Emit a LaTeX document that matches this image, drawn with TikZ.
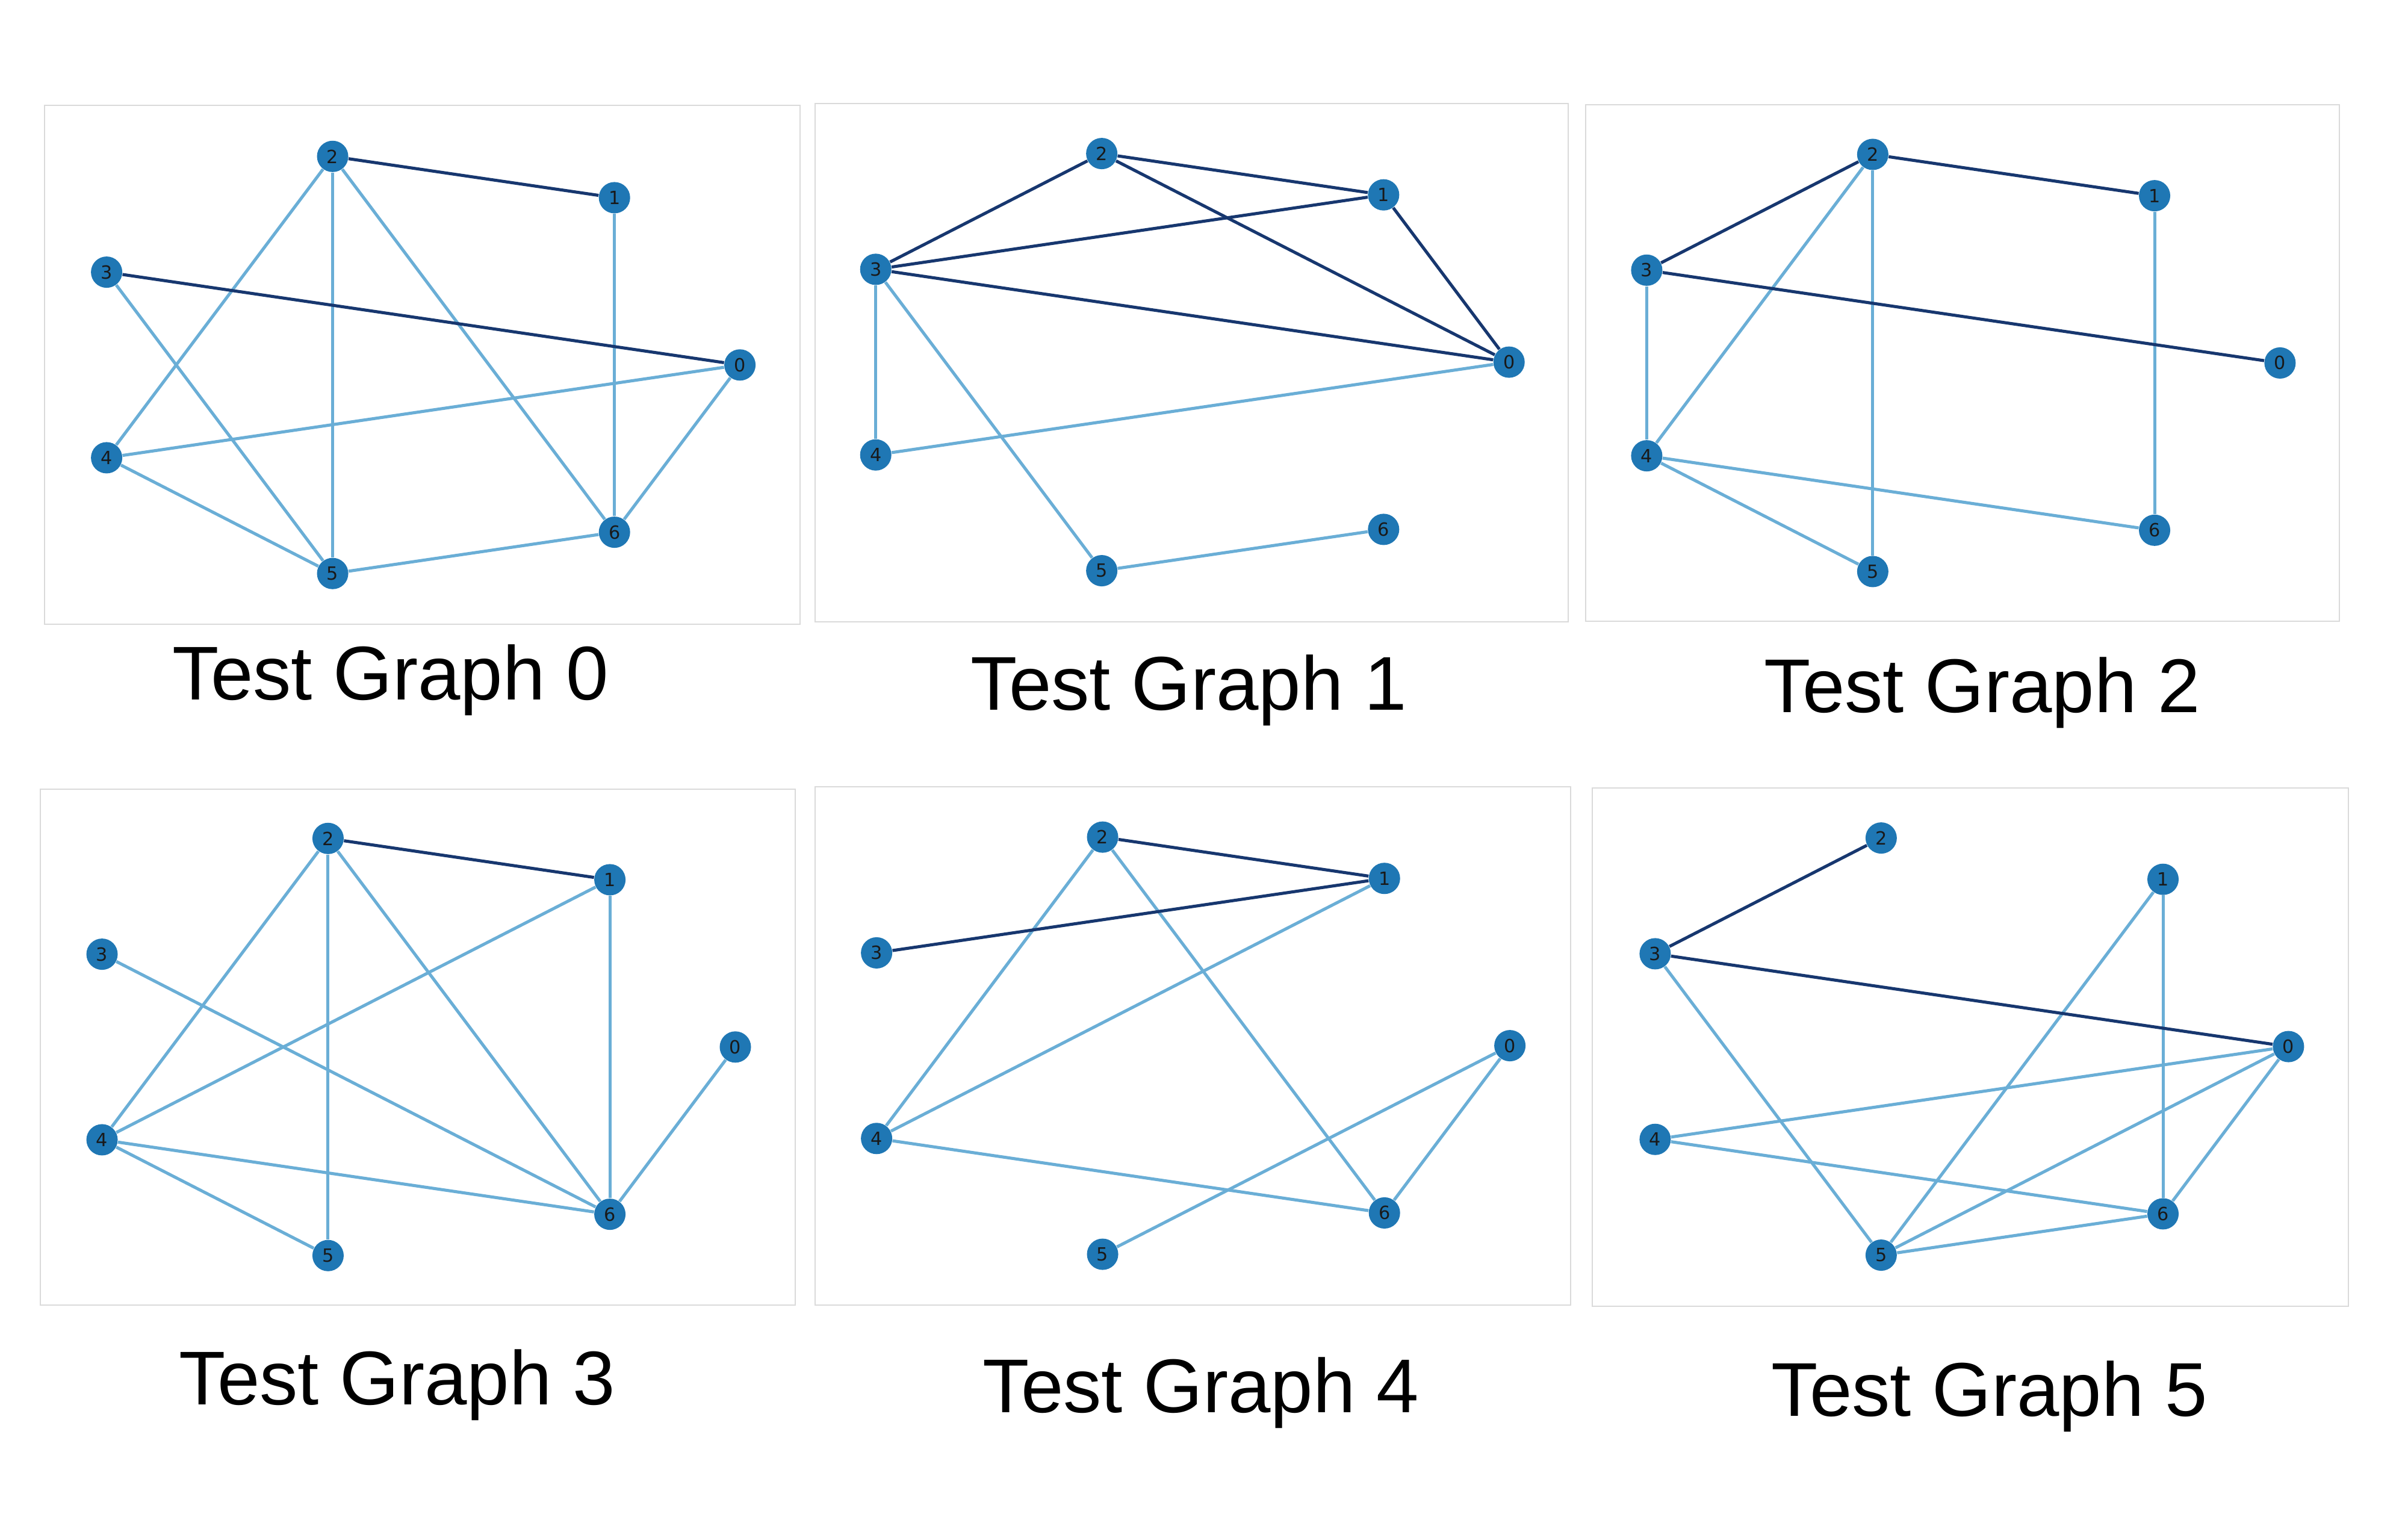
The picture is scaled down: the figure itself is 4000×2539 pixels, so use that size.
\documentclass[tikz,border=0pt]{standalone}
\usepackage{fontspec}
\newfontfamily\titlefont{Liberation Sans}
\newfontfamily\labelfont{DejaVu Sans}
\usetikzlibrary{positioning}

\definecolor{nodeblue}{HTML}{1F77B4}
\definecolor{darkedge}{HTML}{17376F}
\definecolor{lightedge}{HTML}{6AAED6}
\definecolor{framegray}{HTML}{DADADA}

\begin{document}
\begin{tikzpicture}[x = 0.01cm, y = 0.01cm,
		vertex/.style = {circle, fill = nodeblue, inner sep = 0pt, minimum size = 0.52cm,
			font = \labelfont\fontsize{8.6}{9}\selectfont, text = black!90},
		heavy/.style = {darkedge, line width = 1.45pt},
		light/.style = {lightedge, line width = 1.45pt},
		frame/.style = {framegray, line width = 0.7pt},
		caption/.style = {anchor = base, font = \titlefont\fontsize{36}{43}\selectfont}]
	\useasboundingbox (0, 0) rectangle (4000, 2539);

	% Test Graph 0
	\draw [frame] (74, 1502) rectangle (1329, 2364);
	\node [caption] (cap0) at (649, 1376) {Test Graph 0};
	\begin{scope}[shift = {(675.7, 1932.7)}]
		\node [vertex] (t0n0) at (0 : 553.4 and 355.4) {0};
		\node [vertex] (t0n1) at (51.43 : 553.4 and 355.4) {1};
		\node [vertex] (t0n2) at (102.86 : 553.4 and 355.4) {2};
		\node [vertex] (t0n3) at (154.29 : 553.4 and 355.4) {3};
		\node [vertex] (t0n4) at (205.71 : 553.4 and 355.4) {4};
		\node [vertex] (t0n5) at (257.14 : 553.4 and 355.4) {5};
		\node [vertex] (t0n6) at (308.57 : 553.4 and 355.4) {6};
		\draw [light] (t0n2) -- (t0n4);
		\draw [light] (t0n2) -- (t0n5);
		\draw [light] (t0n2) -- (t0n6);
		\draw [light] (t0n1) -- (t0n6);
		\draw [light] (t0n3) -- (t0n5);
		\draw [light] (t0n4) -- (t0n0);
		\draw [light] (t0n4) -- (t0n5);
		\draw [light] (t0n5) -- (t0n6);
		\draw [light] (t0n0) -- (t0n6);
		\draw [heavy] (t0n2) -- (t0n1);
		\draw [heavy] (t0n3) -- (t0n0);
	\end{scope}

	% Test Graph 1
	\draw [frame] (1354, 1506) rectangle (2605, 2367);
	\node [caption] (cap1) at (1975, 1359) {Test Graph 1};
	\begin{scope}[shift = {(1953.3, 1937.4)}]
		\node [vertex] (t1n0) at (0 : 553.4 and 355.4) {0};
		\node [vertex] (t1n1) at (51.43 : 553.4 and 355.4) {1};
		\node [vertex] (t1n2) at (102.86 : 553.4 and 355.4) {2};
		\node [vertex] (t1n3) at (154.29 : 553.4 and 355.4) {3};
		\node [vertex] (t1n4) at (205.71 : 553.4 and 355.4) {4};
		\node [vertex] (t1n5) at (257.14 : 553.4 and 355.4) {5};
		\node [vertex] (t1n6) at (308.57 : 553.4 and 355.4) {6};
		\draw [light] (t1n3) -- (t1n4);
		\draw [light] (t1n3) -- (t1n5);
		\draw [light] (t1n4) -- (t1n0);
		\draw [light] (t1n5) -- (t1n6);
		\draw [heavy] (t1n2) -- (t1n1);
		\draw [heavy] (t1n2) -- (t1n3);
		\draw [heavy] (t1n2) -- (t1n0);
		\draw [heavy] (t1n3) -- (t1n1);
		\draw [heavy] (t1n3) -- (t1n0);
		\draw [heavy] (t1n1) -- (t1n0);
	\end{scope}

	% Test Graph 2
	\draw [frame] (2634, 1507) rectangle (3886, 2365);
	\node [caption] (cap2) at (3293, 1355) {Test Graph 2};
	\begin{scope}[shift = {(3234, 1936)}]
		\node [vertex] (t2n0) at (0 : 553.4 and 355.4) {0};
		\node [vertex] (t2n1) at (51.43 : 553.4 and 355.4) {1};
		\node [vertex] (t2n2) at (102.86 : 553.4 and 355.4) {2};
		\node [vertex] (t2n3) at (154.29 : 553.4 and 355.4) {3};
		\node [vertex] (t2n4) at (205.71 : 553.4 and 355.4) {4};
		\node [vertex] (t2n5) at (257.14 : 553.4 and 355.4) {5};
		\node [vertex] (t2n6) at (308.57 : 553.4 and 355.4) {6};
		\draw [light] (t2n2) -- (t2n4);
		\draw [light] (t2n2) -- (t2n5);
		\draw [light] (t2n1) -- (t2n6);
		\draw [light] (t2n3) -- (t2n4);
		\draw [light] (t2n4) -- (t2n6);
		\draw [light] (t2n4) -- (t2n5);
		\draw [heavy] (t2n2) -- (t2n1);
		\draw [heavy] (t2n2) -- (t2n3);
		\draw [heavy] (t2n3) -- (t2n0);
	\end{scope}

	% Test Graph 3
	\draw [frame] (67, 371) rectangle (1321, 1228);
	\node [caption] (cap3) at (660, 206) {Test Graph 3};
	\begin{scope}[shift = {(668.1, 799.7)}]
		\node [vertex] (t3n0) at (0 : 553.4 and 355.4) {0};
		\node [vertex] (t3n1) at (51.43 : 553.4 and 355.4) {1};
		\node [vertex] (t3n2) at (102.86 : 553.4 and 355.4) {2};
		\node [vertex] (t3n3) at (154.29 : 553.4 and 355.4) {3};
		\node [vertex] (t3n4) at (205.71 : 553.4 and 355.4) {4};
		\node [vertex] (t3n5) at (257.14 : 553.4 and 355.4) {5};
		\node [vertex] (t3n6) at (308.57 : 553.4 and 355.4) {6};
		\draw [light] (t3n2) -- (t3n4);
		\draw [light] (t3n2) -- (t3n5);
		\draw [light] (t3n2) -- (t3n6);
		\draw [light] (t3n1) -- (t3n4);
		\draw [light] (t3n1) -- (t3n6);
		\draw [light] (t3n3) -- (t3n6);
		\draw [light] (t3n4) -- (t3n6);
		\draw [light] (t3n4) -- (t3n5);
		\draw [light] (t3n0) -- (t3n6);
		\draw [heavy] (t3n2) -- (t3n1);
	\end{scope}

	% Test Graph 4
	\draw [frame] (1354, 371) rectangle (2609, 1232);
	\node [caption] (cap4) at (1995, 193) {Test Graph 4};
	\begin{scope}[shift = {(1954.7, 801.9)}]
		\node [vertex] (t4n0) at (0 : 553.4 and 355.4) {0};
		\node [vertex] (t4n1) at (51.43 : 553.4 and 355.4) {1};
		\node [vertex] (t4n2) at (102.86 : 553.4 and 355.4) {2};
		\node [vertex] (t4n3) at (154.29 : 553.4 and 355.4) {3};
		\node [vertex] (t4n4) at (205.71 : 553.4 and 355.4) {4};
		\node [vertex] (t4n5) at (257.14 : 553.4 and 355.4) {5};
		\node [vertex] (t4n6) at (308.57 : 553.4 and 355.4) {6};
		\draw [light] (t4n2) -- (t4n4);
		\draw [light] (t4n2) -- (t4n6);
		\draw [light] (t4n1) -- (t4n4);
		\draw [light] (t4n4) -- (t4n6);
		\draw [light] (t4n0) -- (t4n5);
		\draw [light] (t4n0) -- (t4n6);
		\draw [heavy] (t4n2) -- (t4n1);
		\draw [heavy] (t4n3) -- (t4n1);
	\end{scope}

	% Test Graph 5
	\draw [frame] (2645, 369) rectangle (3901, 1230);
	\node [caption] (cap5) at (3305, 187) {Test Graph 5};
	\begin{scope}[shift = {(3248, 800.4)}]
		\node [vertex] (t5n0) at (0 : 553.4 and 355.4) {0};
		\node [vertex] (t5n1) at (51.43 : 553.4 and 355.4) {1};
		\node [vertex] (t5n2) at (102.86 : 553.4 and 355.4) {2};
		\node [vertex] (t5n3) at (154.29 : 553.4 and 355.4) {3};
		\node [vertex] (t5n4) at (205.71 : 553.4 and 355.4) {4};
		\node [vertex] (t5n5) at (257.14 : 553.4 and 355.4) {5};
		\node [vertex] (t5n6) at (308.57 : 553.4 and 355.4) {6};
		\draw [light] (t5n3) -- (t5n5);
		\draw [light] (t5n1) -- (t5n5);
		\draw [light] (t5n1) -- (t5n6);
		\draw [light] (t5n0) -- (t5n4);
		\draw [light] (t5n4) -- (t5n6);
		\draw [light] (t5n0) -- (t5n5);
		\draw [light] (t5n0) -- (t5n6);
		\draw [light] (t5n5) -- (t5n6);
		\draw [heavy] (t5n3) -- (t5n2);
		\draw [heavy] (t5n3) -- (t5n0);
	\end{scope}
\end{tikzpicture}
\end{document}
